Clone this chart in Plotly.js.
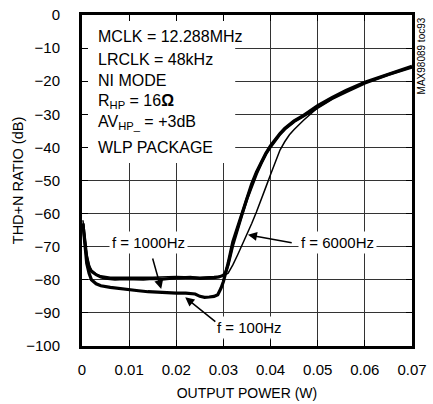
<!DOCTYPE html>
<html>
<head>
<meta charset="utf-8">
<script src="https://cdn.plot.ly/plotly-3.0.1.min.js"></script>
<style>html,body{margin:0;padding:0;background:#fff;}#chart{width:433px;height:404px;}</style>
</head>
<body>
<div id="chart"></div>
<script>
// Data
const xTicks = [0, 0.01, 0.02, 0.03, 0.04, 0.05, 0.06, 0.07];
const xTickLabels = ["0", "0.01", "0.02", "0.03", "0.04", "0.05", "0.06", "0.07"];
const yTicks = [-100, -90, -80, -70, -60, -50, -40, -30, -20, -10, 0];
const infoLines = ["MCLK = 12.288MHz", "LRCLK = 48kHz", "NI MODE", "R<sub>HP</sub> = 16<b>Ω</b>", "AV<sub>HP_</sub> = +3dB", "WLP PACKAGE"];

const x100 = [0.0002, 0.0006, 0.001, 0.0015, 0.002, 0.003, 0.004, 0.006, 0.008, 0.010, 0.012, 0.014, 0.016, 0.018, 0.020, 0.022, 0.024, 0.025, 0.026, 0.027, 0.028, 0.0288, 0.0295, 0.030, 0.0305, 0.031, 0.032, 0.033, 0.034, 0.035, 0.036, 0.037, 0.038, 0.039, 0.040, 0.041, 0.042, 0.043, 0.045, 0.047, 0.050, 0.053, 0.056, 0.060, 0.065, 0.070];
const y100 = [-63, -70, -75, -78, -80, -81.2, -81.8, -82.3, -82.7, -83, -83.3, -83.6, -83.8, -84, -84, -84, -84.3, -85, -85.3, -85.2, -85, -84.5, -82.5, -80.5, -78, -75, -68.5, -64, -59.5, -55, -51, -47.5, -44.5, -41.8, -39.5, -37.5, -35.8, -34.3, -32, -30.3, -27.4, -25, -22.8, -20.3, -17.8, -15.5];

const x1000 = [0.0002, 0.0006, 0.001, 0.0015, 0.002, 0.003, 0.004, 0.005, 0.007, 0.009, 0.011, 0.013, 0.015, 0.017, 0.019, 0.021, 0.023, 0.025, 0.027, 0.028, 0.029, 0.030, 0.0305, 0.031, 0.032, 0.033, 0.034, 0.035, 0.036, 0.037, 0.038, 0.039, 0.040, 0.041, 0.042, 0.043, 0.045, 0.047, 0.050, 0.053, 0.056, 0.060, 0.065, 0.070];
const y1000 = [-63, -68, -73, -76, -77.5, -78.5, -79.2, -79.5, -79.8, -79.7, -79.8, -79.8, -79.6, -79.8, -79.5, -79.3, -79.2, -79.6, -79.6, -79.4, -79.2, -78.6, -77.6, -75.5, -69.5, -64.5, -60, -55.5, -51.5, -48, -44.8, -42, -39.8, -37.8, -36, -34.5, -32.2, -30.5, -27.8, -25.3, -23.2, -20.6, -18, -15.8];

const x6000 = [0.0002, 0.0006, 0.001, 0.0015, 0.002, 0.003, 0.004, 0.006, 0.010, 0.015, 0.020, 0.025, 0.028, 0.030, 0.031, 0.032, 0.033, 0.034, 0.035, 0.036, 0.037, 0.038, 0.039, 0.040, 0.041, 0.042, 0.043, 0.044, 0.045, 0.047, 0.050, 0.053, 0.056, 0.060, 0.065, 0.070];
const y6000 = [-62, -67, -72, -75.5, -77, -78.2, -78.8, -79.2, -79.3, -79.2, -79, -79.2, -79, -78.8, -78, -75.5, -72.5, -69.5, -66.5, -63, -59.5, -56, -52, -48.2, -44.2, -40.8, -38.3, -36.2, -34.6, -31.8, -28, -25.4, -23.1, -20.5, -17.9, -15.6];

const FONT = "'Liberation Sans', Arial, sans-serif";

const traces = [
  {x: x100, y: y100, mode: 'lines', line: {color: '#000', width: 3.2}, name: 'f = 100Hz'},
  {x: x1000, y: y1000, mode: 'lines', line: {color: '#000', width: 3}, name: 'f = 1000Hz'},
  {x: x6000, y: y6000, mode: 'lines', line: {color: '#000', width: 1.5}, name: 'f = 6000Hz'}
];

const axisCommon = {
  showgrid: true, gridcolor: '#333', gridwidth: 1,
  showline: true, linecolor: '#000', linewidth: 3, mirror: 'allticks',
  ticks: 'inside', ticklen: 6, tickwidth: 1, tickcolor: '#000',
  zeroline: false, fixedrange: true,
  tickfont: {family: FONT, size: 15, color: '#000'}
};

const infoY = [-6.6, -13.4, -19.9, -26.1, -32.6, -39.9];
const infoAnn = infoLines.map((t, i) => ({
  xref: 'paper', yref: 'y', x: 0.042, y: infoY[i], xanchor: 'left', yanchor: 'middle', align: 'left',
  showarrow: false, font: {family: FONT, size: 16, color: '#000'}, text: t
}));

const layout = {
  width: 433, height: 404,
  margin: {l: 82, r: 21, t: 15, b: 58},
  paper_bgcolor: '#fff', plot_bgcolor: '#fff',
  showlegend: false,
  font: {family: FONT, color: '#000'},
  xaxis: Object.assign({}, axisCommon, {
    range: [0, 0.07], tickvals: xTicks, ticktext: xTickLabels,
    ticklabelstandoff: 8,
    title: {text: 'OUTPUT POWER (W)', font: {family: FONT, size: 14, color: '#000'}, standoff: 12}
  }),
  yaxis: Object.assign({}, axisCommon, {
    range: [-100, 0], tickvals: yTicks,
    ticklabelstandoff: 16,
    title: {text: 'THD+N RATIO (dB)', font: {family: FONT, size: 14.5, color: '#000'}, standoff: 0}
  }),
  shapes: [
    {type: 'rect', xref: 'x', yref: 'y', x0: 0, x1: 0.0325, y0: -44.7, y1: 0,
     fillcolor: '#fff', line: {width: 0}, layer: 'between'}
  ],
  annotations: infoAnn.concat([
    {xref: 'paper', yref: 'paper', x: 1.03, y: 1.0, xanchor: 'center', yanchor: 'top',
     showarrow: false, textangle: -90, font: {family: FONT, size: 10, color: '#000'},
     text: 'MAX98089 toc93'},
    {xref: 'x', yref: 'y', x: 0.0140, y: -68.6, showarrow: false, bgcolor: '#fff', borderpad: 2,
     font: {family: FONT, size: 15, color: '#000'}, text: 'f = 1000Hz'},
    {xref: 'x', yref: 'y', x: 0.0541, y: -68.6, showarrow: false, bgcolor: '#fff', borderpad: 2,
     font: {family: FONT, size: 15, color: '#000'}, text: 'f = 6000Hz'},
    {xref: 'x', yref: 'y', x: 0.0356, y: -94.4, showarrow: false, bgcolor: '#fff', borderpad: 2,
     font: {family: FONT, size: 15, color: '#000'}, text: 'f = 100Hz'},
    {xref: 'x', yref: 'y', axref: 'x', ayref: 'y', x: 0.0168, y: -82.8, ax: 0.0149, ay: -73.1,
     text: '', showarrow: true, arrowhead: 2, arrowsize: 1.2, arrowwidth: 1.5, arrowcolor: '#000'},
    {xref: 'x', yref: 'y', axref: 'x', ayref: 'y', x: 0.0219, y: -85.3, ax: 0.0286, ay: -93.0,
     text: '', showarrow: true, arrowhead: 2, arrowsize: 1.2, arrowwidth: 1.5, arrowcolor: '#000'},
    {xref: 'x', yref: 'y', axref: 'x', ayref: 'y', x: 0.0352, y: -66.4, ax: 0.0448, ay: -68.9,
     text: '', showarrow: true, arrowhead: 2, arrowsize: 1.2, arrowwidth: 1.5, arrowcolor: '#000'}
  ])
};

Plotly.newPlot('chart', traces, layout, {staticPlot: true, displayModeBar: false});
</script>
</body>
</html>
